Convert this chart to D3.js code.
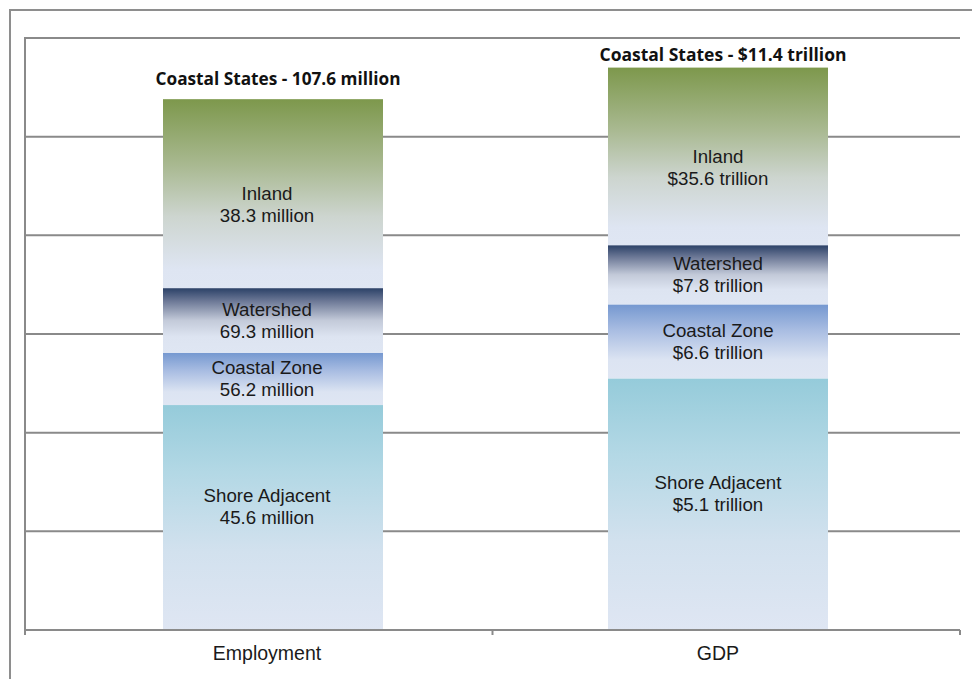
<!DOCTYPE html>
<html>
<head>
<meta charset="utf-8">
<script src="https://cdn.jsdelivr.net/npm/d3@7"></script>
<style>
  html, body { margin: 0; padding: 0; background: #fff; }
  svg { display: block; }
</style>
</head>
<body>
<div id="chart"></div>
<script>
// Coastal share of employment and GDP, stacked from the shore inland
const categories = ["Employment", "GDP"];
const segmentNames = ["Shore Adjacent", "Coastal Zone", "Watershed", "Inland"];

// segment sizes (employment in millions of jobs, GDP in trillions of dollars)
const employmentValues = [45.6, 10.6, 13.1, 38.3];
const gdpValues = [5.1, 1.5, 1.2, 3.6];

// label text printed inside each segment
const employmentLabels = ["45.6 million", "56.2 million", "69.3 million", "38.3 million"];
const gdpLabels = ["$5.1 trillion", "$6.6 trillion", "$7.8 trillion", "$35.6 trillion"];

// totals printed above each bar
const totalLabels = ["Coastal States - 107.6 million", "Coastal States - $11.4 trillion"];

// gridline values for each measure (same pixel spacing)
const employmentTicks = [0, 20, 40, 60, 80, 100, 120];
const gdpMax = 12;

const W = 972, H = 679;
const plot = { left: 25, right: 960, top: 38, bottom: 630 };

const svg = d3.select("#chart").append("svg")
  .attr("width", W).attr("height", H);

// gradient fills, one per segment type (colour at the top fading to pale blue)
const fills = {
  "Inland":         [[0, "#7d984c"], [0.35, "#a9b991"], [0.62, "#cdd5cf"], [0.9, "#dee5f2"], [1, "#dfe6f3"]],
  "Watershed":      [[0, "#2b4167"], [0.2, "#6c7896"], [0.5, "#c3cad9"], [0.75, "#dde4f1"], [1, "#dfe6f3"]],
  "Coastal Zone":   [[0, "#7598d0"], [0.35, "#a9bde2"], [0.75, "#dce4f2"], [1, "#dfe6f3"]],
  "Shore Adjacent": [[0, "#95cbda"], [0.3, "#b3d8e5"], [0.65, "#d2e1ee"], [1, "#dfe6f3"]]
};
const defs = svg.append("defs");
segmentNames.forEach((name, i) => {
  const g = defs.append("linearGradient")
    .attr("id", "grad" + i)
    .attr("x1", 0).attr("y1", 0).attr("x2", 0).attr("y2", 1);
  fills[name].forEach(([o, c]) => g.append("stop").attr("offset", o).attr("stop-color", c));
});

// scales
const yEmp = d3.scaleLinear().domain([0, 120]).range([plot.bottom, plot.top]);
const yGdp = d3.scaleLinear().domain([0, gdpMax]).range([plot.bottom, plot.top]);
const yScales = [yEmp, yGdp];

const xBand = d3.scaleBand().domain(categories).range([plot.left, plot.right]);
const xCenter = d3.scalePoint().domain(categories).range([273, 718]);
const barW = 220;
const labelNudgeX = [-6, 0];
const titleGap = [14, 7];
const segNudgeY = [-11, 0, 0, 11];

// outer frame
svg.append("path")
  .attr("d", `M10,${H} V10 H${W}`)
  .attr("fill", "none").attr("stroke", "#8e8e8e").attr("stroke-width", 2);

// horizontal gridlines
svg.append("g")
  .selectAll("line")
  .data(employmentTicks.filter(t => t > 0))
  .join("line")
  .attr("x1", plot.left).attr("x2", plot.right)
  .attr("y1", d => yEmp(d)).attr("y2", d => yEmp(d))
  .attr("stroke", "#8a8a8a").attr("stroke-width", 2);

// value axis line (left edge of the plot area)
svg.append("line")
  .attr("x1", plot.left).attr("x2", plot.left)
  .attr("y1", plot.top - 1).attr("y2", plot.bottom + 4)
  .attr("stroke", "#8a8a8a").attr("stroke-width", 2);

// stacked bars
const stackVals = [employmentValues, gdpValues];
const labelSets = [employmentLabels, gdpLabels];

categories.forEach((cat, ci) => {
  const y = yScales[ci];
  const cx = xCenter(cat);
  const vals = stackVals[ci];
  const row = {};
  segmentNames.forEach((n, i) => row[n] = vals[i]);
  const series = d3.stack().keys(segmentNames)([row]);

  const g = svg.append("g");
  g.selectAll("rect")
    .data(series)
    .join("rect")
    .attr("x", cx - barW / 2)
    .attr("width", barW)
    .attr("y", d => y(d[0][1]))
    .attr("height", d => y(d[0][0]) - y(d[0][1]))
    .attr("fill", (d, i) => `url(#grad${i})`);

  // two-line labels inside each segment
  series.forEach((s, i) => {
    const mid = (y(s[0][0]) + y(s[0][1])) / 2 + segNudgeY[i];
    const t = g.append("text")
      .attr("x", cx + labelNudgeX[ci])
      .attr("text-anchor", "middle")
      .attr("font-family", "'Liberation Sans', Arial, sans-serif")
      .attr("font-size", 18.7)
      .attr("fill", "#1a1a1a");
    t.append("tspan").attr("x", cx + labelNudgeX[ci]).attr("y", mid - 4.5).text(segmentNames[i]);
    t.append("tspan").attr("x", cx + labelNudgeX[ci]).attr("y", mid + 17.5).text(labelSets[ci][i]);
  });

  // total above the bar
  const total = d3.sum(vals);
  svg.append("text")
    .attr("x", cx + 5)
    .attr("y", y(total) - titleGap[ci])
    .attr("text-anchor", "middle")
    .attr("font-family", "'Open Sans', 'Noto Sans', sans-serif")
    .attr("font-weight", 700)
    .attr("font-size", 17.5)
    .attr("fill", "#111")
    .attr("textLength", ci === 0 ? 245 : 247)
    .attr("lengthAdjust", "spacingAndGlyphs")
    .text(totalLabels[ci]);
});

// category axis with ticks at the band edges
const axisG = svg.append("g");
axisG.append("line")
  .attr("x1", plot.left).attr("x2", plot.right)
  .attr("y1", plot.bottom).attr("y2", plot.bottom)
  .attr("stroke", "#8a8a8a").attr("stroke-width", 2);
const edges = categories.map(c => xBand(c)).concat([xBand.range()[1]]);
axisG.selectAll("line.tick")
  .data(edges)
  .join("line")
  .attr("class", "tick")
  .attr("x1", d => d).attr("x2", d => d)
  .attr("y1", plot.bottom).attr("y2", plot.bottom + 5)
  .attr("stroke", "#8a8a8a").attr("stroke-width", 2);
axisG.selectAll("text")
  .data(categories)
  .join("text")
  .attr("x", (d, i) => xCenter(d) + labelNudgeX[i])
  .attr("y", 660)
  .attr("text-anchor", "middle")
  .attr("font-family", "'Liberation Sans', Arial, sans-serif")
  .attr("font-size", 19.5)
  .attr("fill", "#1a1a1a")
  .text(d => d);
</script>
</body>
</html>
